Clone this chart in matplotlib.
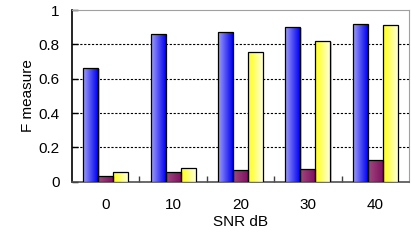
import numpy as np
import matplotlib.pyplot as plt
from matplotlib.colors import LinearSegmentedColormap

snr = ['0', '10', '20', '30', '40']
blue_vals = [0.664, 0.858, 0.870, 0.899, 0.920]
purple_vals = [0.033, 0.055, 0.066, 0.072, 0.125]
yellow_vals = [0.058, 0.078, 0.754, 0.821, 0.911]

plt.rcParams['font.family'] = ['Liberation Sans', 'DejaVu Sans']

fig = plt.figure(figsize=(4.11, 2.41), dpi=100)
ax = fig.add_axes([72 / 411, 1 - 181.7 / 241, 337 / 411, 171.7 / 241])

x = np.arange(len(snr))
w = 0.222
series = [
    (blue_vals, ['#a0a0ff', '#0000f0']),
    (purple_vals, ['#a04a80', '#801060']),
    (yellow_vals, ['#ffff10', '#ffffe0']),
]

grad = np.linspace(0, 1, 256).reshape(1, -1)
for i, (vals, cols) in enumerate(series):
    cmap = LinearSegmentedColormap.from_list('g%d' % i, cols)
    bars = ax.bar(x + (i - 1) * w, vals, w, facecolor='none',
                  edgecolor='black', linewidth=0.9, zorder=4)
    for b in bars:
        bx, by = b.get_x(), b.get_y()
        bw, bh = b.get_width(), b.get_height()
        # soft shadow
        ax.bar(bx + bw / 2 + 0.02, bh, bw, bottom=-0.006, color='#c8c8c8',
               zorder=2, linewidth=0)
        im = ax.imshow(grad, cmap=cmap, aspect='auto',
                       extent=[bx, bx + bw, by, by + bh], zorder=3)
        im.set_clip_path(b)

ax.set_xlim(-0.5, 4.5)
ax.set_ylim(0, 1)
ax.set_yticks([0, 0.2, 0.4, 0.6, 0.8, 1])
ax.set_yticklabels(['0', '0.2', '0.4', '0.6', '0.8', '1'])
ax.set_xticks(x)
ax.set_xticklabels(snr)
ax.set_xticks(np.arange(0.5, 4.5, 1), minor=True)
ax.tick_params(axis='x', which='major', length=0, pad=12, labelsize=11)
ax.tick_params(axis='x', which='minor', direction='in', length=4, width=1, color='#404040')
ax.tick_params(axis='y', direction='in', length=4, width=1, labelsize=11, pad=9)

for yv in [0.2, 0.4, 0.6, 0.8]:
    ax.axhline(yv, color='black', linestyle=(0, (2, 1.5)), linewidth=0.8, zorder=1)

for s in ['top', 'right']:
    ax.spines[s].set_color('#a0a0a0')
    ax.spines[s].set_linewidth(0.8)
ax.spines['left'].set_linewidth(1.2)
ax.spines['bottom'].set_color('#505050')
ax.spines['bottom'].set_linewidth(1.2)

ax.set_xlabel('SNR dB', fontsize=11)
ax.set_ylabel('F measure', fontsize=11)
ax.xaxis.set_label_coords(0.5, -0.195)
ax.yaxis.set_label_coords(-0.11, 0.5)

fig.savefig('out.png', dpi=100)
